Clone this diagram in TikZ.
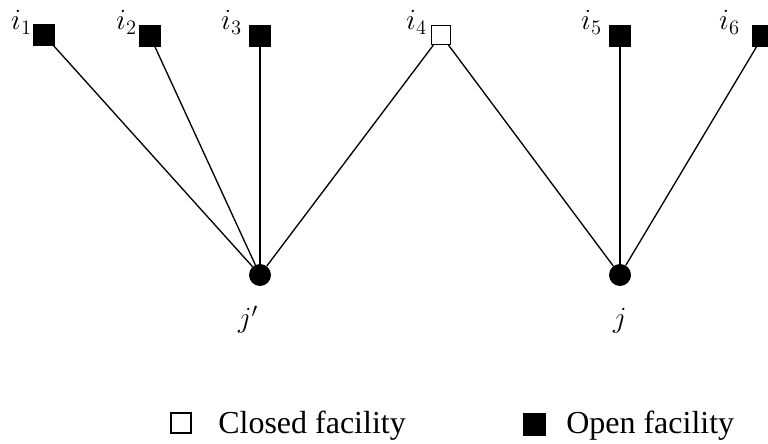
\RequirePackage{fix-cm}
\documentclass[tikz,border=0pt]{standalone}
\usepackage{fontspec}
\newfontfamily\legendfont{Liberation Serif}

\begin{document}
\begin{tikzpicture}[x=0.75pt,y=0.75pt,
    openfac/.style={draw=black, fill=black, minimum size=15.5pt, inner sep=0pt},
    closedfac/.style={draw=black, fill=white, line width=1pt, minimum size=14pt, inner sep=0pt},
    client/.style={circle, fill=black, minimum size=16.5pt, inner sep=0pt},
    lab/.style={font=\fontsize{22}{26}\selectfont, inner sep=0pt},
    legend/.style={font=\legendfont\fontsize{24}{28}\selectfont, anchor=base west, inner sep=0pt},
    assign/.style={line width=1pt}]

    % Fix the page size
    \useasboundingbox (0,0) rectangle (768,443);

    % Define the clients
    \node[client] (jp) at (260,168) {};
    \node[client] (j) at (620,168) {};

    % Define the facilities
    \node[openfac] (i1) at (44,408) {};
    \node[openfac] (i2) at (150,407) {};
    \node[openfac] (i3) at (260,407) {};
    \node[closedfac] (i4) at (441,408) {};
    \node[openfac] (i5) at (620,407) {};
    \node[openfac] (i6) at (763,407) {};

    % Draw the assignments
    \foreach \f in {i1,i2,i3,i4}
        \draw[assign] (\f) -- (jp);
    \foreach \f in {i4,i5,i6}
        \draw[assign] (\f) -- (j);

    % Label the facilities and clients
    \node[lab, anchor=base east] (li1) at (32,413) {$i_1$};
    \node[lab, anchor=base east] (li2) at (137,413) {$i_2$};
    \node[lab, anchor=base east] (li3) at (242,413) {$i_3$};
    \node[lab, anchor=base east] (li4) at (427,413) {$i_4$};
    \node[lab, anchor=base east] (li5) at (602,413) {$i_5$};
    \node[lab, anchor=base east] (li6) at (740,413) {$i_6$};
    \node[lab, anchor=base] (ljp) at (248,115) {$j'$};
    \node[lab, anchor=base] (lj) at (620,115) {$j$};

    % Legend
    \node[closedfac, minimum size=15pt] (kc) at (181,20) {};
    \node[legend] (tc) at (218,10) {Closed facility};
    \node[openfac, minimum size=16.5pt] (ko) at (534,19) {};
    \node[legend] (to) at (566,10) {Open facility};

\end{tikzpicture}
\end{document}
